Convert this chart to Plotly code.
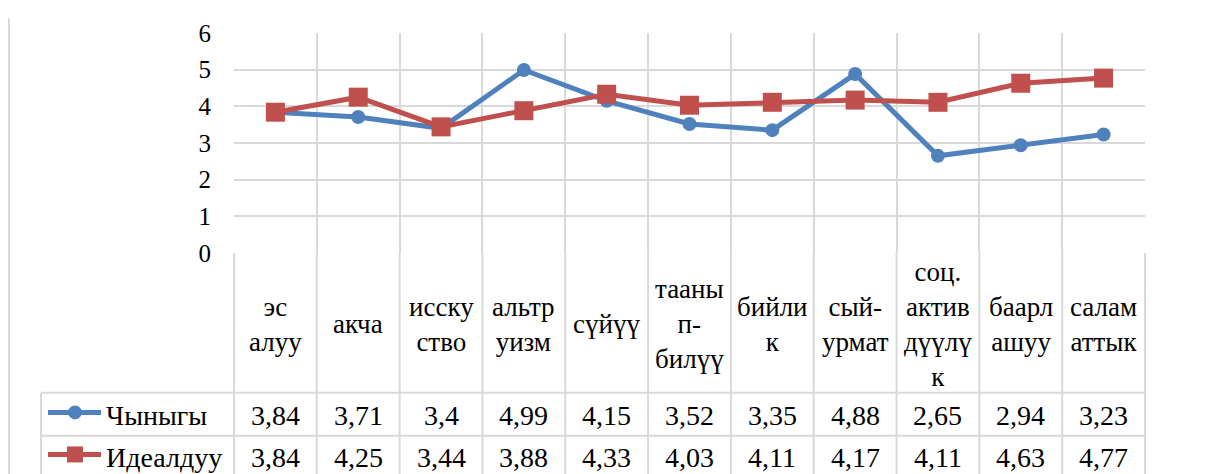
import plotly.graph_objects as go

categories = ["эс<br>алуу", "акча", "исску<br>ство", "альтр<br>уизм", "сүйүү",
              "тааны<br>п-<br>билүү", "бийли<br>к", "сый-<br>урмат",
              "соц.<br>актив<br>дүүлү<br>к", "баарл<br>ашуу", "салам<br>аттык"]
real_vals = [3.84, 3.71, 3.4, 4.99, 4.15, 3.52, 3.35, 4.88, 2.65, 2.94, 3.23]
ideal_vals = [3.84, 4.25, 3.44, 3.88, 4.33, 4.03, 4.11, 4.17, 4.11, 4.63, 4.77]
series_names = ["Чыныгы", "Идеалдуу"]
y_ticks = [0, 1, 2, 3, 4, 5, 6]

BLUE = "#4F81BD"
RED = "#C0504D"
GRID = "#D9D9D9"
FONT = "Liberation Serif, Liberation Sans, sans-serif"

OFF = 8  # page body margin offset
W, H = 1206, 474
L, R, T, B = 234 - OFF, 1145 - OFF, 28 - OFF, 253 - OFF
pw, ph = R - L, B - T


def px_x(p):
    return (p - OFF - L) / pw


def px_y(p):
    return (B - (p - OFF)) / ph


n = len(categories)
xs = list(range(n))

fig = go.Figure()
fig.add_trace(go.Scatter(x=xs, y=real_vals, mode="lines+markers", name=series_names[0],
                         line=dict(color=BLUE, width=5),
                         marker=dict(symbol="circle", size=14, color=BLUE), cliponaxis=False))
fig.add_trace(go.Scatter(x=xs, y=ideal_vals, mode="lines+markers", name=series_names[1],
                         line=dict(color=RED, width=5),
                         marker=dict(symbol="square", size=19, color=RED), cliponaxis=False))

shapes = []
annotations = []
# table vertical lines
for i in range(n + 1):
    shapes.append(dict(type="line", xref="paper", yref="paper", x0=i / n, x1=i / n,
                       y0=0, y1=px_y(490), line=dict(color=GRID, width=2)))
# table horizontal lines
for py in (396, 440):
    shapes.append(dict(type="line", xref="paper", yref="paper", x0=px_x(41), x1=1,
                       y0=px_y(py), y1=px_y(py), line=dict(color=GRID, width=2)))
# legend column left border
shapes.append(dict(type="line", xref="paper", yref="paper", x0=px_x(41), x1=px_x(41),
                   y0=px_y(396), y1=px_y(490), line=dict(color=GRID, width=2)))
# chart outer border (left)
shapes.append(dict(type="line", xref="paper", yref="paper", x0=px_x(9), x1=px_x(9),
                   y0=px_y(13), y1=px_y(490), line=dict(color=GRID, width=2)))

# category labels
for i, c in enumerate(categories):
    annotations.append(dict(x=i, y=px_y(326), xref="x", yref="paper", text=c,
                            showarrow=False, font=dict(family=FONT, size=27, color="black"),
                            xanchor="center", yanchor="middle", align="center"))

rows = [(real_vals, 419, BLUE, "circle", series_names[0]),
        (ideal_vals, 462, RED, "square", series_names[1])]
for vals, py, col, sym, name in rows:
    for i, v in enumerate(vals):
        txt = f"{v:g}".replace(".", ",")
        annotations.append(dict(x=i, y=px_y(py), xref="x", yref="paper", text=txt,
                                showarrow=False, font=dict(family=FONT, size=28, color="black"),
                                xanchor="center", yanchor="middle"))
    # legend key
    shapes.append(dict(type="line", xref="paper", yref="paper", x0=px_x(48), x1=px_x(101),
                       y0=px_y(py - 3), y1=px_y(py - 3), line=dict(color=col, width=5)))
    if sym == "circle":
        shapes.append(dict(type="circle", xref="paper", yref="paper", xsizemode="pixel",
                           ysizemode="pixel", xanchor=px_x(75), yanchor=px_y(py - 3),
                           x0=-7, x1=7, y0=-7, y1=7, fillcolor=col, line=dict(width=0)))
    else:
        shapes.append(dict(type="rect", xref="paper", yref="paper", xsizemode="pixel",
                           ysizemode="pixel", xanchor=px_x(75), yanchor=px_y(py - 3),
                           x0=-8, x1=8, y0=-8, y1=8, fillcolor=col, line=dict(width=0)))
    annotations.append(dict(x=px_x(104), y=px_y(py), xref="paper", yref="paper", text=name,
                            showarrow=False, font=dict(family=FONT, size=28, color="black"),
                            xanchor="left", yanchor="middle"))

fig.update_layout(
    width=W, height=H,
    margin=dict(l=L, r=W - R, t=T, b=H - B, pad=0),
    paper_bgcolor="white", plot_bgcolor="white",
    showlegend=False,
    font=dict(family=FONT),
    shapes=shapes, annotations=annotations,
    xaxis=dict(range=[-0.5, n - 0.5], tickvals=[i - 0.5 for i in range(n + 1)],
               showticklabels=False, showgrid=True, gridcolor=GRID, gridwidth=2,
               zeroline=False, showline=False, ticks=""),
    yaxis=dict(range=[0, 6], tickvals=y_ticks, showgrid=True, gridcolor=GRID, gridwidth=2,
               zeroline=False, showline=False, ticks="", ticklabelstandoff=22,
               tickfont=dict(family=FONT, size=25, color="black")),
)

fig.write_html("out.html")
